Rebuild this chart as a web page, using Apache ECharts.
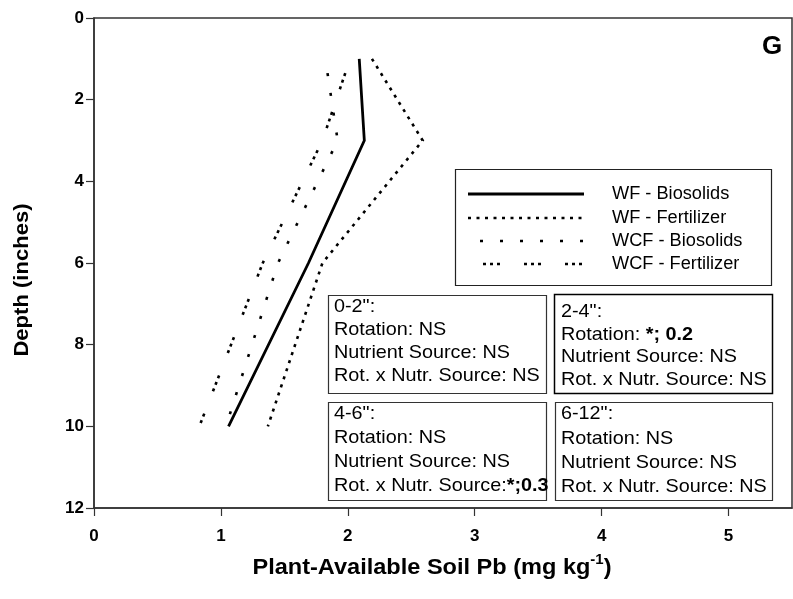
<!DOCTYPE html>
<html><head><meta charset="utf-8">
<script src="https://cdn.jsdelivr.net/npm/echarts@6/dist/echarts.min.js"></script>
<style>html,body{margin:0;padding:0;background:#fff}#c{width:793px;height:599px}</style>
</head><body><div id="c"></div>
<script>
// ---- data ----
const wfDepths = [1, 3, 6, 10];
const wcfDepths = [1.35, 3, 6, 10];
const wfBiosolids = [2.09, 2.13, 1.69, 1.06];
const wfFertilizer = [2.19, 2.59, 1.80, 1.37];
const wcfBiosolids = [1.84, 1.92, 1.45, 1.04];
const wcfFertilizer = [1.98, 1.80, 1.33, 0.83];
const seriesNames = ['WF - Biosolids', 'WF - Fertilizer', 'WCF - Biosolids', 'WCF - Fertilizer'];
const xTicks = [0, 1, 2, 3, 4, 5];
const yTickInterval = 2;
const xTitle = 'Plant-Available Soil Pb (mg kg';
const yTitle = 'Depth (inches)';
const panelLabel = 'G';
const statBoxes = [
  ['0-2":', 'Rotation: NS', 'Nutrient Source: NS', 'Rot. x Nutr. Source: NS'],
  ['2-4":', 'Rotation: {b|*; 0.2}', 'Nutrient Source: NS', 'Rot. x Nutr. Source: NS'],
  ['4-6":', 'Rotation: NS', 'Nutrient Source: NS', 'Rot. x Nutr. Source:{b|*;0.3}'],
  ['6-12":', 'Rotation: NS', 'Nutrient Source: NS', 'Rot. x Nutr. Source: NS']
];

// ---- styles ----
const FONT = '"Liberation Sans", Arial, Helvetica, sans-serif';
const dashes = ['solid', [3, 5.5], [3, 17], [3, 4, 3, 4, 3, 24]];
const widths = [2.8, 2.6, 2.6, 2.6];

function pairs(xs, ys) { return xs.map((v, i) => [v, ys[i]]); }
const seriesData = [
  pairs(wfBiosolids, wfDepths),
  pairs(wfFertilizer, wfDepths),
  pairs(wcfBiosolids, wcfDepths),
  pairs(wcfFertilizer, wcfDepths)
];

const chart = echarts.init(document.getElementById('c'), null, {renderer: 'canvas'});

const graphics = [];
// legend box
graphics.push({type: 'rect', shape: {x: 455.5, y: 169.5, width: 316, height: 116},
  style: {fill: '#fff', stroke: '#222', lineWidth: 1.2}, z: 10});
const legRows = [194, 218, 241, 264];
const legStart = [468, 468, 480, 483];
seriesNames.forEach((n, i) => {
  graphics.push({type: 'line', shape: {x1: legStart[i], y1: legRows[i], x2: 584, y2: legRows[i]},
    style: {stroke: '#000', lineWidth: widths[i], lineDash: dashes[i] === 'solid' ? null : dashes[i]}, z: 11});
  graphics.push({type: 'text', x: 612, y: legRows[i], scaleX: 1.04,
    style: {text: n, font: '17.5px ' + FONT, fill: '#000', verticalAlign: 'middle'}, z: 11});
});
// stat boxes
const boxRects = [[328, 295, 218, 98], [554, 294, 218, 99], [328, 402, 218, 98], [555, 402, 217, 98]];
const boxRows = [[307, 330, 353, 376], [312, 335, 357, 380], [414, 438, 462, 486], [414, 439, 463, 487]];
const boxTextX = [334, 561, 334, 561];
statBoxes.forEach((lines, b) => {
  const r = boxRects[b];
  graphics.push({type: 'rect', shape: {x: r[0] + 0.5, y: r[1] + 0.5, width: r[2], height: r[3]},
    style: {fill: '#fff', stroke: b === 1 ? '#000' : '#333', lineWidth: b === 1 ? 1.5 : 1.2}, z: 10});
  lines.forEach((t, k) => {
    graphics.push({type: 'text', x: boxTextX[b], y: boxRows[b][k], scaleX: 1.07,
      style: {text: t, font: '18.5px ' + FONT, fill: '#000', verticalAlign: 'middle',
        rich: {b: {fontWeight: 'bold', fontSize: 18.5, fontFamily: FONT}}}, z: 11});
  });
});
// panel label
graphics.push({type: 'text', x: 772, y: 47,
  style: {text: panelLabel, font: 'bold 26px ' + FONT, fill: '#000', align: 'center', verticalAlign: 'middle'}, z: 11});
// axis titles
graphics.push({type: 'text', x: 22, y: 280, rotation: Math.PI / 2, scaleX: 1.05,
  style: {text: yTitle, font: 'bold 21px ' + FONT, fill: '#000', align: 'center', verticalAlign: 'middle'}, z: 11});
graphics.push({type: 'text', x: 432, y: 566, scaleX: 1.07,
  style: {text: '{m|' + xTitle + '}{s|-1}{m|)}', fill: '#000', align: 'center', verticalAlign: 'middle',
    rich: {m: {fontSize: 22, fontWeight: 'bold', fontFamily: FONT, lineHeight: 26, verticalAlign: 'bottom'},
           s: {fontSize: 14, fontWeight: 'bold', fontFamily: FONT, lineHeight: 26, verticalAlign: 'top'}}}, z: 11});

chart.setOption({
  animation: false,
  backgroundColor: '#fff',
  grid: {left: 94, top: 18, right: 1, bottom: 91, show: true, borderColor: '#333', borderWidth: 1.5, containLabel: false},
  xAxis: {
    type: 'value', min: 0, max: 5.5, interval: 1, position: 'bottom',
    axisLine: {show: true, onZero: false, lineStyle: {color: '#333', width: 1.5}},
    axisTick: {show: true, length: 8, customValues: xTicks, lineStyle: {color: '#333', width: 1.2}},
    axisLabel: {margin: 20, color: '#000', fontSize: 17, fontWeight: 'bold', fontFamily: FONT,
      customValues: xTicks},
    splitLine: {show: false}
  },
  yAxis: {
    type: 'value', min: 0, max: 12, interval: yTickInterval, inverse: true,
    axisLine: {show: true, onZero: false, lineStyle: {color: '#333', width: 1.5}},
    axisTick: {show: true, length: 8, lineStyle: {color: '#333', width: 1.2}},
    axisLabel: {margin: 10, color: '#000', fontSize: 17, fontWeight: 'bold', fontFamily: FONT},
    splitLine: {show: false}
  },
  series: seriesData.map((d, i) => ({
    name: seriesNames[i], type: 'line', data: d, symbol: 'none', z: 3,
    lineStyle: {color: '#000', width: widths[i], type: dashes[i], cap: 'butt', join: 'miter'}
  })),
  graphic: graphics
});
</script></body></html>
